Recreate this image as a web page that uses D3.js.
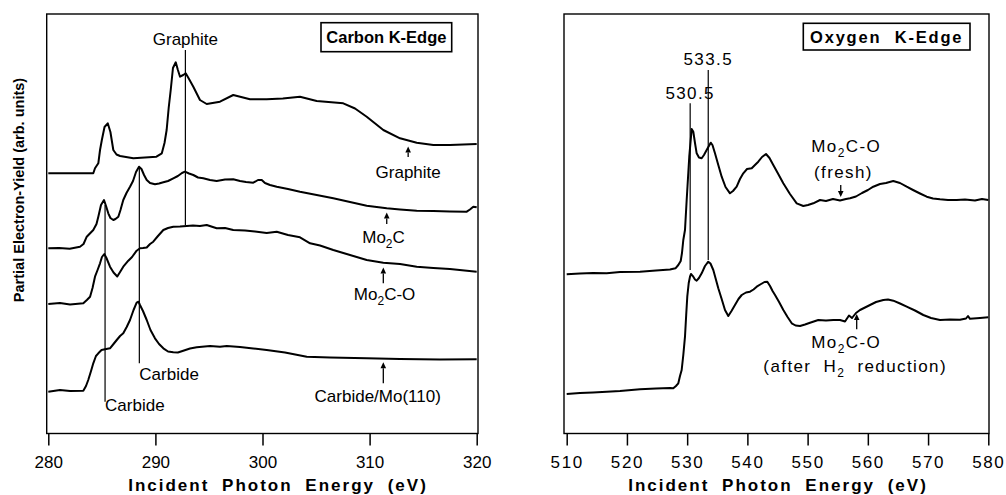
<!DOCTYPE html>
<html>
<head>
<meta charset="utf-8">
<script src="https://cdn.jsdelivr.net/npm/d3@7"></script>
<style>
  body { margin: 0; background: #fff; }
  svg { display: block; font-family: "Liberation Sans", Arial, Helvetica, sans-serif; }
</style>
</head>
<body>
<svg id="chart" width="1006" height="495"></svg>
<script>
// ---------- Carbon K-edge spectra: [photon energy (eV), partial electron yield (arb. units, offset)] ----------
const carbonTicks = [280, 290, 300, 310, 320];
const oxygenTicks = [510, 520, 530, 540, 550, 560, 570, 580];

const carbonGraphite = [
  [280, 2.607], [284.2, 2.607], [284.36, 2.657], [284.67, 2.707], [284.83, 2.84], [285.0, 2.94],
  [285.25, 3.07], [285.55, 3.107], [285.8, 3.02], [286.07, 2.84], [286.37, 2.795], [286.7, 2.78],
  [287.94, 2.757], [290.1, 2.773], [290.6, 2.807], [290.85, 2.91], [291.05, 3.04], [291.24, 3.26],
  [291.43, 3.44], [291.64, 3.66], [291.9, 3.717], [292.1, 3.64], [292.3, 3.573], [292.6, 3.59],
  [292.83, 3.607], [293.14, 3.55], [293.54, 3.473], [294.16, 3.34], [294.79, 3.30], [296.03, 3.323],
  [297.27, 3.39], [298.83, 3.347], [300.39, 3.347], [301.9, 3.355], [303.5, 3.373], [305.06, 3.33],
  [307.54, 3.307], [308.64, 3.255], [309.73, 3.173], [311.28, 3.04], [312.84, 2.957], [314.4, 2.913],
  [315.95, 2.89], [317.5, 2.89], [320, 2.90]
];

const carbonMo2C = [
  [280, 1.857], [281.0, 1.86], [282.0, 1.853], [282.96, 1.873], [283.29, 1.90], [283.59, 1.973],
  [284.2, 2.04], [284.5, 2.10], [284.67, 2.173], [284.92, 2.29], [285.2, 2.34], [285.39, 2.28],
  [285.6, 2.207], [285.8, 2.16], [286.07, 2.14], [286.27, 2.15], [286.54, 2.173], [286.74, 2.24],
  [287.0, 2.34], [287.3, 2.41], [287.63, 2.473], [287.91, 2.53], [288.19, 2.62], [288.47, 2.673],
  [288.7, 2.65], [288.94, 2.59], [289.19, 2.54], [289.5, 2.51], [289.96, 2.497], [290.34, 2.505],
  [290.74, 2.517], [291.18, 2.53], [291.67, 2.557], [292.1, 2.58], [292.48, 2.61], [292.76, 2.623],
  [293.14, 2.605], [293.54, 2.59], [293.98, 2.565], [294.47, 2.557], [295.1, 2.54], [295.72, 2.53],
  [296.5, 2.545], [297.27, 2.547], [297.9, 2.53], [298.46, 2.52], [299.14, 2.513], [299.58, 2.54],
  [299.93, 2.54], [300.23, 2.51], [300.7, 2.49], [301.33, 2.473], [302.38, 2.45], [303.5, 2.423],
  [305.06, 2.39], [306.61, 2.357], [308.17, 2.32], [309.73, 2.283], [311.6, 2.257], [312.84, 2.245],
  [314.4, 2.233], [315.95, 2.23], [317.5, 2.225], [319.07, 2.223], [319.37, 2.245], [319.68, 2.273],
  [320, 2.267]
];

const carbonMo2CO = [
  [280, 1.30], [281.09, 1.31], [282.03, 1.295], [283.27, 1.307], [283.6, 1.34], [283.9, 1.373],
  [284.13, 1.46], [284.36, 1.573], [284.6, 1.64], [284.83, 1.707], [285.01, 1.77], [285.23, 1.80],
  [285.43, 1.76], [285.76, 1.673], [286.09, 1.615], [286.44, 1.575], [286.7, 1.62], [287.0, 1.673],
  [287.47, 1.733], [287.82, 1.77], [288.25, 1.833], [288.56, 1.857], [288.84, 1.86], [289.19, 1.865],
  [289.5, 1.90], [289.8, 1.923], [290.24, 1.98], [290.74, 2.04], [291.18, 2.06], [291.67, 2.073],
  [292.3, 2.075], [292.92, 2.08], [293.51, 2.085], [294.16, 2.08], [294.79, 2.09], [295.72, 2.057],
  [296.5, 2.06], [297.27, 2.04], [298.37, 2.035], [299.3, 2.025], [300.39, 2.01], [301.33, 2.023],
  [302.38, 1.99], [303.5, 1.967], [304.44, 1.907], [305.37, 1.885], [306.61, 1.84], [308.17, 1.79],
  [309.73, 1.74], [311.28, 1.713], [312.84, 1.70], [314.4, 1.673], [315.95, 1.66], [317.5, 1.65],
  [320, 1.623]
];

const carbonCarbideMo110 = [
  [280, 0.423], [281.09, 0.44], [282.03, 0.43], [283.27, 0.433], [283.52, 0.48], [283.73, 0.54],
  [283.99, 0.63], [284.2, 0.707], [284.45, 0.78], [284.67, 0.807], [284.97, 0.84], [285.29, 0.847],
  [285.76, 0.857], [286.09, 0.90], [286.39, 0.94], [286.7, 0.98], [287.0, 1.007], [287.32, 1.07],
  [287.63, 1.14], [287.96, 1.24], [288.25, 1.313], [288.42, 1.323], [288.56, 1.29], [288.84, 1.23],
  [289.19, 1.14], [289.54, 1.04], [289.96, 0.957], [290.34, 0.90], [290.74, 0.857], [291.18, 0.825],
  [291.67, 0.817], [292.1, 0.815], [292.6, 0.833], [293.23, 0.855], [293.86, 0.867], [295.1, 0.88],
  [296.03, 0.873], [296.66, 0.88], [297.9, 0.87], [299.14, 0.855], [300.39, 0.84], [302.1, 0.815],
  [304.13, 0.773], [306.3, 0.765], [309.73, 0.757], [312.84, 0.75], [316.57, 0.745], [320, 0.747]
];

// ---------- Oxygen K-edge spectra ----------
const oxygenFresh = [
  [510, 1.597], [512.2, 1.605], [514.37, 1.61], [516.64, 1.607], [518.85, 1.62], [522.17, 1.623],
  [524.83, 1.635], [527.15, 1.645], [528.06, 1.657], [528.53, 1.69], [528.93, 1.73], [529.14, 1.81],
  [529.36, 1.94], [529.64, 2.04], [529.92, 2.34], [530.35, 2.773], [530.75, 3.05], [531.02, 3.023],
  [531.3, 2.91], [531.58, 2.807], [531.96, 2.765], [532.41, 2.757], [532.79, 2.79], [533.24, 2.84],
  [533.91, 2.913], [534.2, 2.89], [534.62, 2.807], [535.17, 2.69], [535.73, 2.573], [536.37, 2.47],
  [537.11, 2.407], [537.61, 2.43], [538.22, 2.473], [538.77, 2.55], [539.32, 2.607], [539.94, 2.65],
  [540.72, 2.657], [541.26, 2.69], [541.81, 2.723], [542.43, 2.77], [543.09, 2.80], [543.67, 2.76],
  [544.3, 2.69], [545.08, 2.605], [545.96, 2.507], [547.07, 2.40], [548.19, 2.307], [549.28, 2.28],
  [550.06, 2.29], [550.94, 2.307], [552.06, 2.34], [553.05, 2.33], [554.21, 2.35], [555.38, 2.335],
  [556.37, 2.35], [557.04, 2.357], [558.03, 2.375], [559.03, 2.41], [560.02, 2.44], [560.9, 2.473],
  [562.02, 2.50], [563.01, 2.51], [564.22, 2.53], [565.34, 2.51], [566.45, 2.473], [567.5, 2.44],
  [568.66, 2.405], [569.77, 2.373], [570.82, 2.355], [571.98, 2.347], [573.31, 2.34], [574.75, 2.34],
  [576.13, 2.345], [577.79, 2.335], [578.95, 2.35], [580, 2.34]
];

const oxygenReduced = [
  [510, 0.40], [512.2, 0.41], [514.37, 0.415], [516.64, 0.423], [518.85, 0.43], [522.17, 0.447],
  [524.83, 0.455], [527.15, 0.46], [527.7, 0.457], [528.14, 0.48], [528.53, 0.507], [528.81, 0.58],
  [529.09, 0.64], [529.36, 0.79], [529.64, 0.973], [529.84, 1.19], [530.02, 1.373], [530.26, 1.51],
  [530.47, 1.573], [530.63, 1.60], [531.02, 1.573], [531.3, 1.545], [531.58, 1.533], [531.96, 1.56],
  [532.41, 1.607], [532.96, 1.68], [533.51, 1.723], [533.87, 1.705], [534.34, 1.64], [534.75, 1.55],
  [535.17, 1.457], [535.73, 1.35], [536.28, 1.24], [536.83, 1.18], [537.36, 1.23], [537.94, 1.29],
  [538.52, 1.35], [539.06, 1.39], [539.77, 1.415], [540.44, 1.423], [541.02, 1.445], [541.55, 1.473],
  [542.27, 1.50], [542.85, 1.52], [543.31, 1.523], [543.76, 1.48], [544.18, 1.43], [544.59, 1.39],
  [545.26, 1.32], [545.97, 1.24], [546.67, 1.17], [547.36, 1.107], [548.0, 1.085], [548.74, 1.08],
  [549.57, 1.095], [550.4, 1.113], [551.77, 1.14], [553.05, 1.135], [554.27, 1.14], [555.38, 1.14],
  [556.21, 1.125], [556.87, 1.185], [557.37, 1.16], [558.03, 1.21], [558.7, 1.24], [559.53, 1.265],
  [560.36, 1.29], [561.36, 1.32], [562.57, 1.34], [563.35, 1.345], [564.23, 1.333], [565.34, 1.305],
  [566.45, 1.273], [567.83, 1.235], [569.21, 1.19], [570.49, 1.16], [571.98, 1.14], [573.64, 1.145],
  [575.3, 1.142], [576.3, 1.155], [576.63, 1.18], [576.96, 1.152], [578.62, 1.16], [580, 1.167]
];

// Peak-position markers: energy, vertical extent in yield units
const carbonMarkers = [
  { energy: 285.3, from: 0.323, to: 2.29 },
  { energy: 288.5, from: 0.707, to: 2.673 },
  { energy: 292.8, from: 2.09, to: 3.84 }
];
const oxygenMarkers = [
  { energy: 530.5, from: 1.64, to: 3.307 },
  { energy: 533.5, from: 1.74, to: 3.64 }
];

// Text labels (rich text parts; "sub" marks a subscript)
const carbonLabels = [
  { parts: [{ t: "Graphite" }], energy: 292.8, y: 3.89, anchor: "middle" },
  { parts: [{ t: "Carbide" }], energy: 288.5, y: 0.54, anchor: "start" },
  { parts: [{ t: "Carbide" }], energy: 285.3, y: 0.233, anchor: "start" },
  { parts: [{ t: "Graphite" }], energy: 313.6, y: 2.557, anchor: "middle" },
  { parts: [{ t: "Mo" }, { t: "2", sub: true }, { t: "C" }], energy: 311.3, y: 1.907, anchor: "middle" },
  { parts: [{ t: "Mo" }, { t: "2", sub: true }, { t: "C-O" }], energy: 311.4, y: 1.34, anchor: "middle" },
  { parts: [{ t: "Carbide/Mo(110)" }], energy: 310.76, y: 0.323, anchor: "middle" }
];
const oxygenLabels = [
  { parts: [{ t: "533.5" }], energy: 533.5, y: 3.69, anchor: "middle" },
  { parts: [{ t: "530.5" }], energy: 530.5, y: 3.347, anchor: "middle" },
  { parts: [{ t: "Mo" }, { t: "2", sub: true }, { t: "C-O" }], energy: 556.4, y: 2.823, anchor: "middle" },
  { parts: [{ t: "(fresh)" }], energy: 555.95, y: 2.56, anchor: "middle" },
  { parts: [{ t: "Mo" }, { t: "2", sub: true }, { t: "C-O" }], energy: 556.4, y: 0.857, anchor: "middle" },
  { parts: [{ t: "(after H" }, { t: "2", sub: true }, { t: " reduction)" }], energy: 557.9, y: 0.623, anchor: "middle" }
];

// Arrows pointing at each spectrum: tail -> tip
const carbonArrows = [
  { energy: 313.6, from: 2.77, to: 2.875 },
  { energy: 311.6, from: 2.10, to: 2.215 },
  { energy: 311.28, from: 1.507, to: 1.665 },
  { energy: 311.28, from: 0.507, to: 0.717 }
];
const oxygenArrows = [
  { energy: 555.5, from: 2.49, to: 2.37 },
  { energy: 558.15, from: 1.047, to: 1.20 }
];

const yieldDomain = [0, 4.2];

// ---------- drawing ----------
const svg = d3.select("#chart");

function richText(sel, parts) {
  let lowered = false;
  parts.forEach(p => {
    const ts = sel.append("tspan").text(p.t);
    if (p.sub) {
      ts.attr("font-size", "12px").attr("dy", 5);
      lowered = true;
    } else if (lowered) {
      ts.attr("dy", -5);
      lowered = false;
    }
  });
}

function drawPanel(cfg) {
  const g = svg.append("g");
  const x = d3.scaleLinear().domain(cfg.xDomain).range(cfg.xRange);
  const y = d3.scaleLinear().domain(yieldDomain).range([434, 14]);

  // frame
  g.append("rect")
    .attr("x", cfg.frame[0]).attr("y", 14)
    .attr("width", cfg.frame[1] - cfg.frame[0]).attr("height", 433.5 - 14)
    .attr("fill", "none").attr("stroke", "#000").attr("stroke-width", 1.4);

  // bottom axis
  const ax = g.append("g").attr("transform", "translate(0,433.5)")
    .call(d3.axisBottom(x).tickValues(cfg.ticks).tickSize(12).tickPadding(10).tickFormat(d3.format("d")));
  ax.select(".domain").remove();
  ax.selectAll(".tick line").attr("stroke", "#000").attr("stroke-width", 1.5);
  ax.selectAll(".tick text")
    .attr("fill", "#000")
    .attr("font-size", "17px")
    .attr("font-family", "'Liberation Sans', Arial, sans-serif")
    .style("letter-spacing", cfg.tickSpacing);

  // axis title
  g.append("text")
    .attr("x", cfg.titleX).attr("y", 490.5)
    .attr("text-anchor", "middle")
    .attr("font-size", "17px").attr("font-weight", "bold")
    .style("letter-spacing", "2px").style("word-spacing", "6px")
    .text("Incident Photon Energy (eV)");

  // spectra
  const line = d3.line().x(d => x(d[0])).y(d => y(d[1]));
  cfg.spectra.forEach(s => {
    g.append("path").datum(s)
      .attr("d", line)
      .attr("fill", "none").attr("stroke", "#000")
      .attr("stroke-width", 2).attr("stroke-linejoin", "round");
  });

  // peak markers
  cfg.markers.forEach(m => {
    g.append("line")
      .attr("x1", x(m.energy)).attr("x2", x(m.energy))
      .attr("y1", y(m.from)).attr("y2", y(m.to))
      .attr("stroke", "#000").attr("stroke-width", 1.2);
  });

  // arrows
  cfg.arrows.forEach(a => {
    const xa = x(a.energy), y0 = y(a.from), y1 = y(a.to);
    const dir = y1 < y0 ? -1 : 1;
    const head = 6;
    g.append("line")
      .attr("x1", xa).attr("x2", xa)
      .attr("y1", y0).attr("y2", y1 - dir * head)
      .attr("stroke", "#000").attr("stroke-width", 1.3);
    g.append("path")
      .attr("d", `M${xa},${y1} L${xa - 2.8},${y1 - dir * head} L${xa + 2.8},${y1 - dir * head} Z`)
      .attr("fill", "#000");
  });

  // labels
  cfg.labels.forEach(l => {
    const t = g.append("text")
      .attr("x", x(l.energy)).attr("y", y(l.y))
      .attr("text-anchor", l.anchor)
      .attr("font-size", "17px")
      .style("letter-spacing", cfg.labelSpacing)
      .style("word-spacing", cfg.labelWordSpacing);
    richText(t, l.parts);
  });

  // legend box
  const lg = cfg.legend;
  g.append("rect")
    .attr("x", lg.box[0]).attr("y", lg.box[1])
    .attr("width", lg.box[2]).attr("height", lg.box[3])
    .attr("fill", "#fff").attr("stroke", "#000").attr("stroke-width", 1.6);
  g.append("text")
    .attr("x", lg.box[0] + lg.box[2] / 2).attr("y", lg.box[1] + 20)
    .attr("text-anchor", "middle")
    .attr("font-size", "16.5px").attr("font-weight", "bold")
    .style("letter-spacing", lg.spacing).style("word-spacing", lg.wordSpacing)
    .text(lg.text);
}

drawPanel({
  xDomain: [280, 320], xRange: [48.3, 476.7], frame: [46.7, 478],
  ticks: carbonTicks, tickSpacing: "0px", titleX: 278,
  spectra: [carbonGraphite, carbonMo2C, carbonMo2CO, carbonCarbideMo110],
  markers: carbonMarkers, arrows: carbonArrows, labels: carbonLabels,
  labelSpacing: "0px", labelWordSpacing: "0px",
  legend: { text: "Carbon K-Edge", box: [321, 22.7, 130.7, 29], spacing: "0px", wordSpacing: "0px" }
});

drawPanel({
  xDomain: [510, 580], xRange: [566.7, 988.3], frame: [564, 989],
  ticks: oxygenTicks, tickSpacing: "1.6px", titleX: 778,
  spectra: [oxygenFresh, oxygenReduced],
  markers: oxygenMarkers, arrows: oxygenArrows, labels: oxygenLabels,
  labelSpacing: "1.4px", labelWordSpacing: "6px",
  legend: { text: "Oxygen K-Edge", box: [803.3, 23.3, 166.7, 26.7], spacing: "1.8px", wordSpacing: "7px" }
});

// shared y-axis title
svg.append("text")
  .attr("transform", "translate(24,190) rotate(-90)")
  .attr("text-anchor", "middle")
  .attr("font-size", "14.5px").attr("font-weight", "bold")
  .text("Partial Electron-Yield (arb. units)");
</script>
</body>
</html>
